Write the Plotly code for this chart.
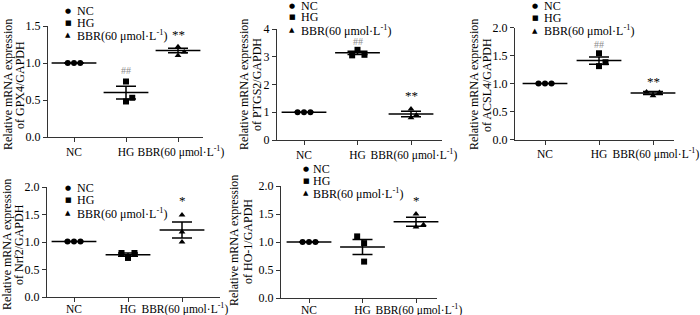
import plotly.graph_objects as go

# ---------------- data ----------------
CATEGORIES = ["NC", "HG", "BBR(60 μmol·L<sup>-1</sup>)"]
LEGEND_LABELS = ["NC", "HG", "BBR(60 μmol·L<sup>-1</sup>)"]
GENES = ["GPX4", "PTGS2", "ACSL4", "Nrf2", "HO-1"]

GPX4_NC = [1.0, 1.0, 1.0]
GPX4_HG = [0.75, 0.48, 0.53]
GPX4_BBR = [1.22, 1.10, 1.15]
GPX4_MEAN = [1.0, 0.60, 1.17]
GPX4_SEM = [0.0, 0.085, 0.03]

PTGS2_NC = [1.0, 1.0, 1.0]
PTGS2_HG = [3.05, 3.25, 3.07]
PTGS2_BBR = [1.12, 0.80, 0.90]
PTGS2_MEAN = [1.0, 3.14, 0.94]
PTGS2_SEM = [0.0, 0.06, 0.10]

ACSL4_NC = [1.0, 1.0, 1.0]
ACSL4_HG = [1.54, 1.31, 1.38]
ACSL4_BBR = [0.85, 0.78, 0.84]
ACSL4_MEAN = [1.0, 1.41, 0.83]
ACSL4_SEM = [0.0, 0.065, 0.025]

NRF2_NC = [1.01, 1.01, 1.01]
NRF2_HG = [0.80, 0.71, 0.80]
NRF2_BBR = [1.49, 1.18, 1.00]
NRF2_MEAN = [1.01, 0.77, 1.22]
NRF2_SEM = [0.0, 0.03, 0.145]

HO1_NC = [1.0, 1.0, 1.0]
HO1_HG = [1.10, 0.98, 0.65]
HO1_BBR = [1.50, 1.27, 1.31]
HO1_MEAN = [1.0, 0.91, 1.36]
HO1_SEM = [0.0, 0.135, 0.08]

SIG_HG = ["##", "##", "##", "", ""]
SIG_BBR = ["**", "**", "**", "*", "*"]

# ---------------- style / layout ----------------
FONT = "Liberation Serif, Times New Roman, serif"
W, H = 700, 315
NB = "\u00a0"
# small padding so the crowded last category label sits as in the reference
TICK_PAD = [("", ""), ("", ""), (NB * 2, "")]

PANELS = [
    dict(pts=(GPX4_NC, GPX4_HG, GPX4_BBR), mean=GPX4_MEAN, sem=GPX4_SEM,
         px=(48, 203), py=(26, 137), ticks=(74, 52), ymax=1.5, dtick=0.5, fmt=".1f",
         jit=([-0.12, 0, 0.12], [0, 0, 0.12], [0, 0, 0.12]),
         sig_y=(0.90, 1.38), leg=(68, 77, [11, 23, 35]),
         title=(8, 20, 85), lab_off=0),
    dict(pts=(PTGS2_NC, PTGS2_HG, PTGS2_BBR), mean=PTGS2_MEAN, sem=PTGS2_SEM,
         px=(277, 442), py=(29, 140), ticks=(304, 53.5), ymax=4, dtick=1, fmt="d",
         jit=([-0.12, 0, 0.12], [-0.1, 0, 0.13], [0, 0, 0.1]),
         sig_y=(3.55, 1.62), leg=(292, 301, [6, 17, 30]),
         title=(244, 257, 85), lab_off=0),
    dict(pts=(ACSL4_NC, ACSL4_HG, ACSL4_BBR), mean=ACSL4_MEAN, sem=ACSL4_SEM,
         px=(515, 674), py=(27.5, 139.5), ticks=(545, 54), ymax=2.0, dtick=0.5, fmt=".1f",
         jit=([-0.12, 0, 0.12], [0, 0, 0.12], [-0.12, 0, 0.12]),
         sig_y=(1.70, 1.04), leg=(535, 544, [6, 18, 31]),
         title=(474, 487, 85), lab_off=0),
    dict(pts=(NRF2_NC, NRF2_HG, NRF2_BBR), mean=NRF2_MEAN, sem=NRF2_SEM,
         px=(47, 220), py=(187, 297), ticks=(74, 54), ymax=2.0, dtick=0.5, fmt=".1f",
         jit=([-0.12, 0, 0.12], [-0.12, 0, 0.12], [0, 0, 0]),
         sig_y=(None, 1.75), leg=(68, 77, [188, 200, 213]),
         title=(7, 19, 245), lab_off=-3),
    dict(pts=(HO1_NC, HO1_HG, HO1_BBR), mean=HO1_MEAN, sem=HO1_SEM,
         px=(281, 437), py=(186, 298), ticks=(309, 53.5), ymax=2.0, dtick=0.5, fmt=".1f",
         jit=([-0.12, 0, 0.12], [-0.1, 0.03, 0.03], [0, 0, 0.14]),
         sig_y=(None, 1.75), leg=(306, 313, [169, 181, 193]),
         title=(234, 248, 241), lab_off=-3),
]

SYMBOLS = ["circle", "square", "triangle-up"]
LEG_GLYPHS = ["●", "■", "▲"]

fig = go.Figure()
layout = dict(width=W, height=H, margin=dict(l=0, r=0, t=0, b=0, autoexpand=False),
              paper_bgcolor="white", plot_bgcolor="white", showlegend=False,
              font=dict(family=FONT, size=12, color="black"))
annotations = []

for k, p in enumerate(PANELS):
    n = "" if k == 0 else str(k + 1)
    xa, ya = "x" + n, "y" + n
    x0, x1 = p["px"]
    ytop, yzero = p["py"]
    t0, sp = p["ticks"]
    xr = [(x0 - t0) / sp, (x1 - t0) / sp]
    ticktext = [pre + c + post for c, (pre, post) in zip(CATEGORIES, TICK_PAD)]
    layout["xaxis" + n] = dict(
        domain=[x0 / W, x1 / W], range=xr, anchor=ya, automargin=False, tickangle=0,
        tickvals=[0, 1, 2], ticktext=ticktext, ticks="outside", ticklen=4,
        ticklabelstandoff=p["lab_off"], ticklabeloverflow="allow",
        tickwidth=1, tickcolor="#333", showline=True, linecolor="#333", linewidth=1,
        showgrid=False, zeroline=False, fixedrange=True,
        tickfont=dict(family=FONT, size=11.5, color="black"))
    layout["yaxis" + n] = dict(
        domain=[1 - yzero / H, 1 - ytop / H], range=[0, p["ymax"]], anchor=xa,
        automargin=False,
        dtick=p["dtick"], tick0=0, tickformat=p["fmt"], ticks="outside", ticklen=4,
        tickwidth=1, tickcolor="#333", showline=True, linecolor="#333", linewidth=1,
        showgrid=False, zeroline=False, fixedrange=True,
        tickfont=dict(family=FONT, size=12, color="black"))

    # y-axis title (two rotated lines)
    l1x, l2x, tyc = p["title"]
    for tx_, txt in ((l1x, "Relative mRNA expression"), (l2x, "of " + GENES[k] + "/GAPDH")):
        annotations.append(dict(x=tx_ / W, y=1 - tyc / H, xref="paper", yref="paper",
                                text=txt, textangle=-90, showarrow=False,
                                xanchor="center", yanchor="middle",
                                font=dict(family=FONT, size=12, color="black")))

    for g in range(3):
        vals = p["pts"][g]
        fig.add_trace(go.Scatter(
            x=[g + j for j in p["jit"][g]], y=vals, mode="markers", xaxis=xa, yaxis=ya,
            marker=dict(symbol=SYMBOLS[g], size=6, color="black"),
            hoverinfo="skip", cliponaxis=False))
    fig.add_trace(go.Scatter(
        x=[0, 1, 2], y=p["mean"], mode="markers", xaxis=xa, yaxis=ya,
        marker=dict(symbol="line-ew-open", size=32, color="black",
                    line=dict(width=1.5, color="black")),
        error_y=dict(type="data", array=p["sem"], visible=True, width=10,
                     thickness=1.5, color="black"),
        hoverinfo="skip", cliponaxis=False))

    hg_y, bbr_y = p["sig_y"]
    if hg_y is not None and SIG_HG[k]:
        annotations.append(dict(x=1, y=hg_y, xref=xa, yref=ya, text=SIG_HG[k],
                                showarrow=False, font=dict(family=FONT, size=10, color="#8c8c8c")))
    if bbr_y is not None and SIG_BBR[k]:
        annotations.append(dict(x=2, y=bbr_y, xref=xa, yref=ya, text=SIG_BBR[k],
                                showarrow=False, font=dict(family=FONT, size=13, color="#000000")))

    mx, tx, ys = p["leg"]
    for g in range(3):
        annotations.append(dict(x=mx / W, y=1 - ys[g] / H, xref="paper", yref="paper",
                                text=LEG_GLYPHS[g], showarrow=False, xanchor="center",
                                yanchor="middle",
                                font=dict(family="DejaVu Sans", size=7, color="black")))
        annotations.append(dict(x=tx / W, y=1 - ys[g] / H, xref="paper", yref="paper",
                                text=LEGEND_LABELS[g], showarrow=False, xanchor="left",
                                yanchor="middle", xshift=-2,
                                font=dict(family=FONT, size=12, color="black")))

layout["annotations"] = annotations
fig.update_layout(**layout)
fig.write_html("out.html", config={"displayModeBar": False, "staticPlot": True},
               post_script="document.body.style.margin='0';document.body.style.padding='0';")
